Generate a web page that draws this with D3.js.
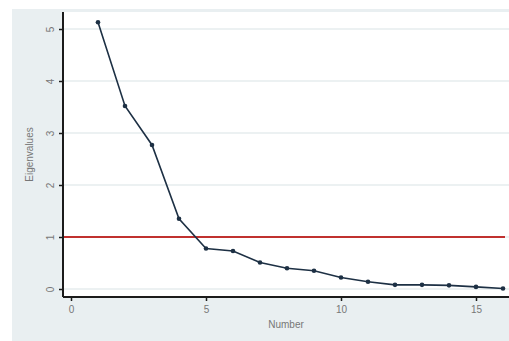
<html lang="en">
<head>
    <meta charset="UTF-8">
    <title>Scree plot</title>
    <style>
        body { margin: 0; background: #fff; font-family: Arial, "Liberation Sans", sans-serif; }
        svg { display: block; }
    </style>
</head>
<body>
    <div id="chart"></div>
    <script src="https://d3js.org/d3.v7.min.js"></script>
    <script>
        // eigenvalues
        const numbers = [1, 2, 3, 4, 5, 6, 7, 8, 9, 10, 11, 12, 13, 14, 15, 16];
        const eigenvalues = [5.13, 3.52, 2.77, 1.35, 0.78, 0.73, 0.51, 0.40, 0.35, 0.22, 0.14, 0.08, 0.08, 0.07, 0.04, 0.01];
        const xTicks = [0, 5, 10, 15];
        const yTicks = [0, 1, 2, 3, 4, 5];
        const cutoff = 1;

        const width = 509, height = 341;
        const plot = { left: 63, right: 509, top: 12, bottom: 297 };

        const svg = d3.select('#chart').append('svg')
            .attr('width', width)
            .attr('height', height);

        // outer graph region
        svg.append('rect')
            .attr('x', 12).attr('y', 9)
            .attr('width', width - 12).attr('height', height - 9)
            .attr('fill', '#e9eff1');

        svg.append('rect')
            .attr('x', plot.left).attr('y', plot.top)
            .attr('width', plot.right - plot.left).attr('height', plot.bottom - plot.top)
            .attr('fill', '#ffffff');

        const x = d3.scaleLinear().domain([0, 15]).range([71, 476]);
        const y = d3.scaleLinear().domain([0, 5]).range([289, 29]);

        // grid
        svg.append('g')
            .selectAll('line')
            .data(yTicks)
            .enter().append('line')
            .attr('x1', plot.left).attr('x2', plot.right)
            .attr('y1', d => y(d)).attr('y2', d => y(d))
            .attr('stroke', '#e6ecee')
            .attr('stroke-width', 1.5);

        // cutoff line
        svg.append('line')
            .attr('x1', plot.left).attr('x2', 505)
            .attr('y1', y(cutoff)).attr('y2', y(cutoff))
            .attr('stroke', '#c0312f')
            .attr('stroke-width', 2);

        // axes
        const xAxis = svg.append('g')
            .attr('transform', `translate(0, ${plot.bottom})`)
            .call(d3.axisBottom(x).tickValues(xTicks).tickFormat(d3.format('d')).tickSize(4).tickPadding(5).tickSizeOuter(0));
        xAxis.select('.domain').remove();
        xAxis.append('line')
            .attr('x1', plot.left).attr('x2', plot.right)
            .attr('stroke', '#1b1b1b').attr('stroke-width', 2);

        const yAxis = svg.append('g')
            .attr('transform', `translate(${plot.left}, 0)`)
            .call(d3.axisLeft(y).tickValues(yTicks).tickFormat(d3.format('d')).tickSize(4).tickPadding(0).tickSizeOuter(0));
        yAxis.select('.domain').remove();
        yAxis.append('line')
            .attr('y1', plot.top).attr('y2', plot.bottom)
            .attr('stroke', '#1b1b1b').attr('stroke-width', 2);

        svg.selectAll('.tick line').attr('stroke', '#1b1b1b').attr('stroke-width', 1.5);
        svg.selectAll('.tick text')
            .attr('fill', '#777')
            .style('font-size', '10px');
        yAxis.selectAll('.tick text')
            .attr('text-anchor', 'middle')
            .attr('transform', 'translate(-13, 0) rotate(-90)')
            .attr('x', 0).attr('dy', '0.35em');

        // line and markers
        const pts = numbers.map((n, i) => [n, eigenvalues[i]]);
        svg.append('path')
            .datum(pts)
            .attr('fill', 'none')
            .attr('stroke', '#1d3044')
            .attr('stroke-width', 1.6)
            .attr('d', d3.line().x(d => x(d[0])).y(d => y(d[1])));

        svg.append('g')
            .selectAll('circle')
            .data(pts)
            .enter().append('circle')
            .attr('cx', d => x(d[0]))
            .attr('cy', d => y(d[1]))
            .attr('r', 2.3)
            .attr('fill', '#1d3044');

        // titles
        svg.append('text')
            .attr('x', (plot.left + plot.right) / 2)
            .attr('y', 328)
            .attr('text-anchor', 'middle')
            .attr('fill', '#777')
            .style('font-size', '10px')
            .text('Number');

        svg.append('text')
            .attr('transform', `translate(33, ${(plot.top + plot.bottom) / 2}) rotate(-90)`)
            .attr('text-anchor', 'middle')
            .attr('fill', '#777')
            .style('font-size', '10px')
            .text('Eigenvalues');
    </script>
</body>
</html>
